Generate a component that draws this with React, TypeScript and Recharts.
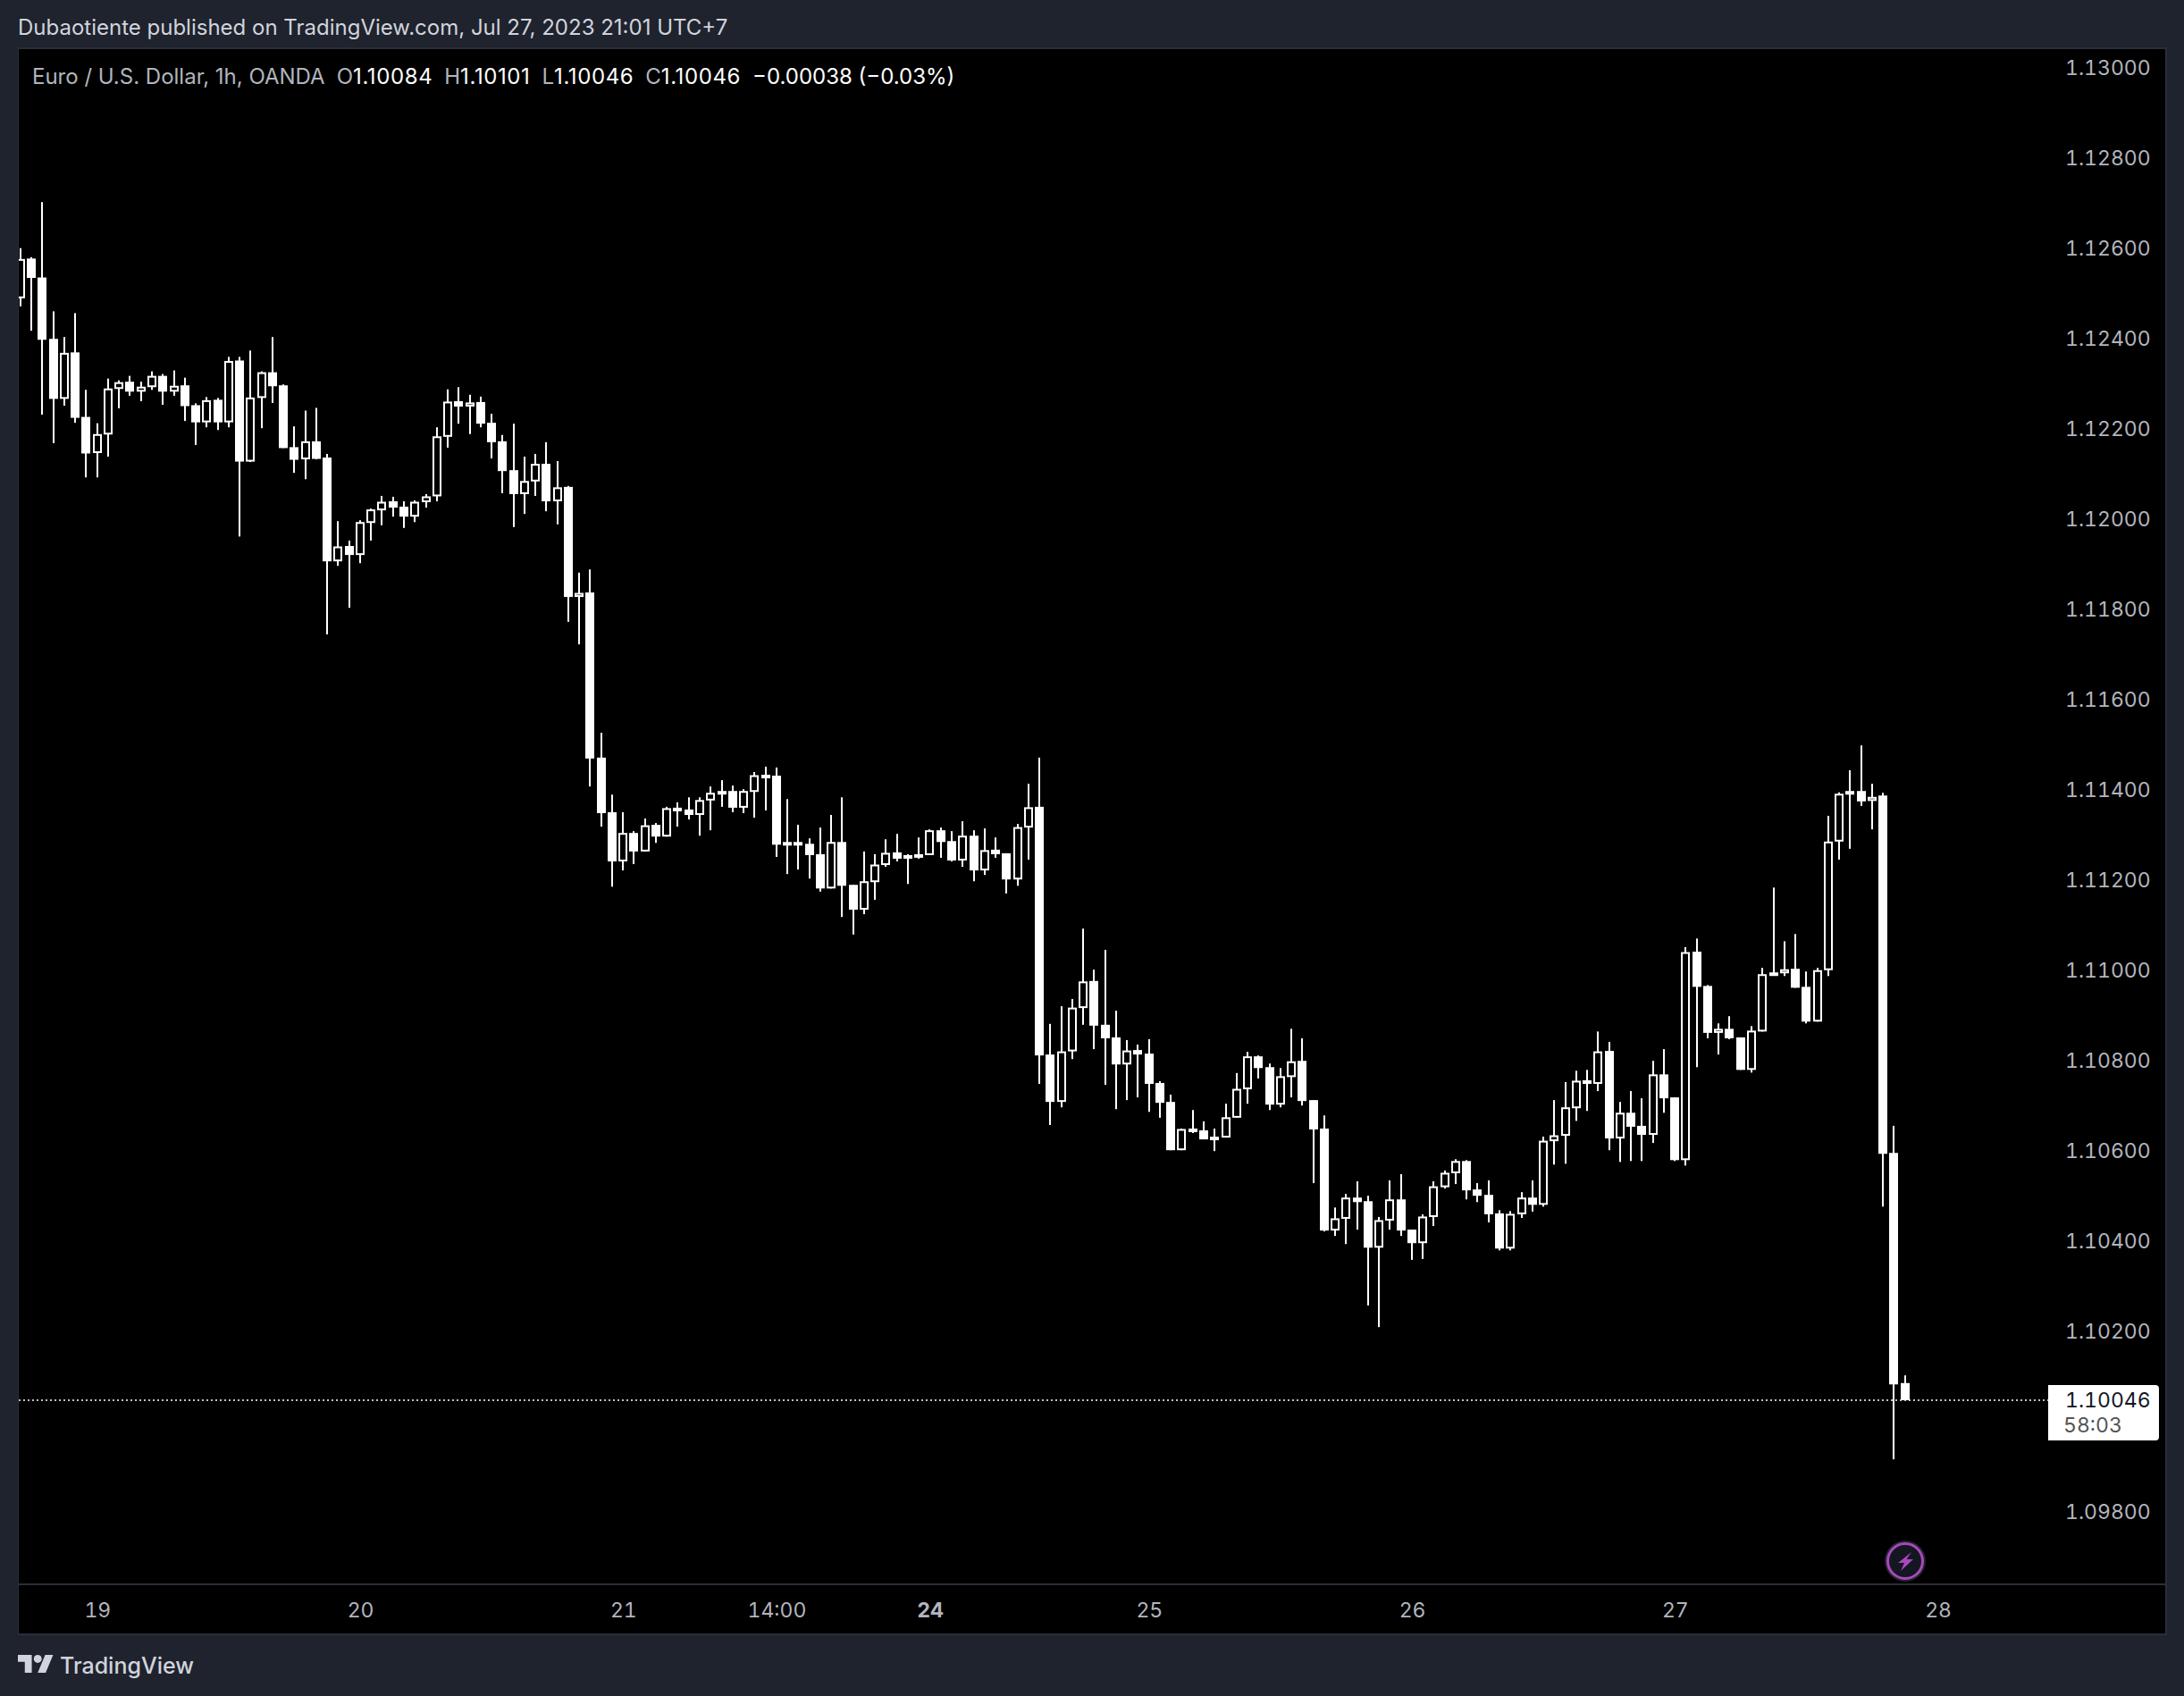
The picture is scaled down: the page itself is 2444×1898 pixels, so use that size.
import { ComposedChart, Bar, XAxis, YAxis, ReferenceLine } from "recharts";

const opens = [
  1.12488, 1.12576, 1.12534, 1.12398, 1.12265, 1.12368, 1.12225, 1.12145, 1.12186, 1.12287,
  1.12303, 1.12281, 1.12291, 1.12316, 1.12281, 1.12295, 1.12251, 1.12213, 1.12263, 1.12213,
  1.1235, 1.12126, 1.12267, 1.12324, 1.12295, 1.12158, 1.12131, 1.12171, 1.12135, 1.11905,
  1.11939, 1.11919, 1.1199, 1.12018, 1.12038, 1.12026, 1.12004, 1.12036, 1.12049, 1.12181,
  1.1226, 1.12248, 1.12258, 1.12212, 1.12171, 1.12107, 1.12054, 1.12082, 1.12121, 1.12038,
  1.1207, 1.11826, 1.11836, 1.1147, 1.11349, 1.1124, 1.11303, 1.11262, 1.11321, 1.11295,
  1.11353, 1.11355, 1.11343, 1.11375, 1.1139, 1.11396, 1.11359, 1.11394, 1.11428, 1.1143,
  1.11283, 1.11277, 1.11279, 1.11256, 1.1118, 1.11283, 1.11188, 1.11133, 1.11194, 1.11232,
  1.1126, 1.11254, 1.11252, 1.11254, 1.11309, 1.11285, 1.11242, 1.11297, 1.1122, 1.11266,
  1.11258, 1.112, 1.11315, 1.11361, 1.10812, 1.10707, 1.10819, 1.10915, 1.10975, 1.10878,
  1.1085, 1.1079, 1.10822, 1.10814, 1.10749, 1.10707, 1.106, 1.10642, 1.10644, 1.10624,
  1.10628, 1.10672, 1.10735, 1.10808, 1.10784, 1.10701, 1.10762, 1.10798, 1.10711, 1.10648,
  1.10422, 1.10448, 1.10495, 1.10487, 1.10384, 1.10444, 1.10491, 1.10424, 1.10394, 1.10452,
  1.10518, 1.10549, 1.10576, 1.10513, 1.10501, 1.1046, 1.10382, 1.10458, 1.10495, 1.10479,
  1.1062, 1.10632, 1.10693, 1.10747, 1.10747, 1.1082, 1.10626, 1.10683, 1.10654, 1.10634,
  1.10768, 1.10717, 1.10578, 1.1104, 1.10964, 1.1086, 1.10869, 1.1085, 1.10778, 1.10863,
  1.10994, 1.10992, 1.11002, 1.10962, 1.10885, 1.10999, 1.11284, 1.11388, 1.11396, 1.11374,
  1.11386, 1.10594, 1.10084,
];

const highs = [
  1.12599, 1.12579, 1.12701, 1.12459, 1.12402, 1.12455, 1.12285, 1.12211, 1.1231, 1.12306,
  1.12316, 1.12303, 1.12326, 1.1232, 1.12328, 1.12312, 1.12255, 1.12269, 1.12267, 1.12358,
  1.12358, 1.12372, 1.12326, 1.12402, 1.12297, 1.12204, 1.12239, 1.12245, 1.12143, 1.11994,
  1.11951, 1.11996, 1.12022, 1.1205, 1.12048, 1.12038, 1.1204, 1.12054, 1.12202, 1.12286,
  1.12291, 1.12274, 1.1227, 1.12232, 1.12185, 1.1221, 1.12137, 1.12143, 1.12169, 1.12127,
  1.12072, 1.1188, 1.11887, 1.11525, 1.11388, 1.11349, 1.11307, 1.11335, 1.11325, 1.11361,
  1.11371, 1.11382, 1.11382, 1.11406, 1.1142, 1.11408, 1.114, 1.11438, 1.1145, 1.11448,
  1.11378, 1.11321, 1.11291, 1.11315, 1.11343, 1.11382, 1.11188, 1.11262, 1.11256, 1.11289,
  1.11301, 1.11256, 1.11293, 1.11311, 1.11315, 1.11307, 1.11329, 1.11309, 1.11313, 1.11293,
  1.11258, 1.11323, 1.11412, 1.1147, 1.1088, 1.10919, 1.10935, 1.11091, 1.11, 1.11044,
  1.10909, 1.10844, 1.10834, 1.10846, 1.10753, 1.10723, 1.10648, 1.10689, 1.10664, 1.10648,
  1.10703, 1.10771, 1.10818, 1.1081, 1.10792, 1.10782, 1.10869, 1.10848, 1.10711, 1.10677,
  1.10473, 1.10503, 1.10531, 1.10499, 1.10452, 1.10533, 1.10547, 1.10424, 1.10458, 1.10531,
  1.10555, 1.1058, 1.10578, 1.10527, 1.10533, 1.10467, 1.10465, 1.10507, 1.10533, 1.1063,
  1.10711, 1.10751, 1.10776, 1.10778, 1.10863, 1.1084, 1.10707, 1.10731, 1.10715, 1.10798,
  1.10824, 1.10717, 1.1105, 1.11069, 1.10966, 1.10881, 1.10897, 1.1085, 1.10875, 1.11004,
  1.11182, 1.11063, 1.11079, 1.10996, 1.11004, 1.11341, 1.11393, 1.11442, 1.11497, 1.11412,
  1.11392, 1.10654, 1.10101,
];

const lows = [
  1.1247, 1.12416, 1.1223, 1.12167, 1.1225, 1.12212, 1.12091, 1.12091, 1.12137, 1.12244,
  1.12272, 1.1226, 1.12285, 1.12252, 1.12272, 1.12216, 1.12163, 1.12202, 1.12196, 1.12202,
  1.1196, 1.12125, 1.122, 1.12256, 1.12156, 1.12101, 1.12087, 1.12131, 1.11743, 1.11895,
  1.11802, 1.11901, 1.11951, 1.11985, 1.12004, 1.11979, 1.11992, 1.12024, 1.12038, 1.12157,
  1.1221, 1.12187, 1.12202, 1.12133, 1.12056, 1.11981, 1.1201, 1.1205, 1.12016, 1.11987,
  1.11771, 1.11721, 1.11406, 1.11317, 1.11184, 1.1122, 1.11234, 1.11262, 1.11281, 1.11295,
  1.11317, 1.11333, 1.11297, 1.11309, 1.11361, 1.11349, 1.11347, 1.11337, 1.11353, 1.1125,
  1.11212, 1.11222, 1.11202, 1.11173, 1.1118, 1.11117, 1.11078, 1.11123, 1.11155, 1.11228,
  1.1124, 1.1119, 1.11246, 1.11254, 1.11248, 1.1124, 1.11228, 1.11196, 1.1121, 1.11248,
  1.11169, 1.11186, 1.11244, 1.10747, 1.10656, 1.10695, 1.10802, 1.10878, 1.10824, 1.10745,
  1.10691, 1.10711, 1.10717, 1.10685, 1.10672, 1.106, 1.106, 1.10638, 1.10624, 1.10598,
  1.10628, 1.10672, 1.10703, 1.10759, 1.10689, 1.10695, 1.10717, 1.10699, 1.10527, 1.1042,
  1.1041, 1.10392, 1.10424, 1.10256, 1.10208, 1.10424, 1.1041, 1.10357, 1.10359, 1.10432,
  1.10515, 1.10525, 1.10491, 1.10485, 1.1044, 1.10378, 1.10378, 1.1045, 1.10464, 1.10475,
  1.10568, 1.1057, 1.10665, 1.10687, 1.10731, 1.106, 1.10574, 1.10576, 1.10576, 1.10616,
  1.10683, 1.10576, 1.10566, 1.10784, 1.10848, 1.10812, 1.10846, 1.10778, 1.10772, 1.10863,
  1.10988, 1.10986, 1.1096, 1.10881, 1.10885, 1.10986, 1.11244, 1.11268, 1.11363, 1.11311,
  1.10475, 1.09915, 1.10046,
];

const closes = [
  1.12575, 1.12533, 1.12396, 1.12265, 1.12367, 1.12223, 1.12144, 1.12187, 1.12288, 1.12302,
  1.12281, 1.12292, 1.12316, 1.12281, 1.12294, 1.12249, 1.12213, 1.12262, 1.12213, 1.12349,
  1.12126, 1.12268, 1.12324, 1.12293, 1.12156, 1.1213, 1.12171, 1.12132, 1.11905, 1.11938,
  1.11919, 1.11992, 1.1202, 1.12037, 1.12024, 1.12004, 1.12037, 1.12049, 1.12182, 1.12259,
  1.12248, 1.12257, 1.1221, 1.12169, 1.12105, 1.12054, 1.12083, 1.12121, 1.12038, 1.12069,
  1.11826, 1.11835, 1.11468, 1.11347, 1.1124, 1.11303, 1.11262, 1.1132, 1.11295, 1.11358,
  1.11359, 1.11343, 1.11376, 1.11392, 1.11396, 1.11359, 1.11396, 1.11431, 1.11432, 1.11277,
  1.11277, 1.11283, 1.11254, 1.1118, 1.11283, 1.11186, 1.11133, 1.11196, 1.11233, 1.11259,
  1.11246, 1.11246, 1.11256, 1.11309, 1.11283, 1.11242, 1.11297, 1.1122, 1.11265, 1.11256,
  1.112, 1.11316, 1.1136, 1.1081, 1.10707, 1.10819, 1.10916, 1.10974, 1.10876, 1.10848,
  1.1079, 1.10821, 1.10812, 1.10747, 1.10705, 1.106, 1.10647, 1.10648, 1.10624, 1.1063,
  1.10673, 1.10736, 1.10808, 1.10782, 1.10701, 1.10764, 1.10797, 1.10709, 1.10646, 1.10422,
  1.10449, 1.10495, 1.10485, 1.10384, 1.10445, 1.10491, 1.10422, 1.10394, 1.10453, 1.1052,
  1.1055, 1.10576, 1.10511, 1.10499, 1.10458, 1.10382, 1.10459, 1.10495, 1.10479, 1.10621,
  1.10633, 1.10695, 1.10754, 1.10755, 1.10819, 1.10626, 1.10683, 1.10652, 1.10634, 1.10768,
  1.10715, 1.10578, 1.11039, 1.10962, 1.1086, 1.10869, 1.10848, 1.10778, 1.10865, 1.1099,
  1.10988, 1.11001, 1.1096, 1.10885, 1.10999, 1.11284, 1.1139, 1.11396, 1.11373, 1.11383,
  1.10592, 1.10081, 1.10046,
];

const priceTicks = [
  1.098, 1.102, 1.104, 1.106, 1.108, 1.11, 1.112, 1.114, 1.116, 1.118, 1.12, 1.122, 1.124,
  1.126, 1.128, 1.13,
];
const timeTicks = [7, 31, 55, 69, 83, 103, 127, 151, 175];
const timeLabels = ["19", "20", "21", "14:00", "24", "25", "26", "27", "28"];
const lastPrice = 1.10046;

const BG = "#1f232e";
const LINE = "#2a2e39";
const FONT = "Inter, 'Noto Sans', sans-serif";
const TABULAR = "tabular-nums";

const candles = opens.map((open, i) => ({
  t: i,
  open,
  high: highs[i],
  low: lows[i],
  close: closes[i],
  range: [lows[i], highs[i]],
}));

// bar spans low..high, body position is taken from the same pixels
function Candle(props: any) {
  const { x, y, width, height, payload } = props;
  const { open, close, high, low } = payload;
  const perUnit = height / (high - low);
  const top = y + (high - Math.max(open, close)) * perUnit;
  const bottom = y + (high - Math.min(open, close)) * perUnit;
  const cx = Math.round(x + width / 2);
  const hollow = close > open;
  const h = Math.max(bottom - top, 4);
  return (
    <g>
      <rect x={cx - 1} y={y} width={2} height={height} fill="#fff" />
      {hollow ? (
        <rect x={cx - 4} y={top + 1} width={8} height={h - 2} fill="#000" stroke="#fff" strokeWidth={2} />
      ) : (
        <rect x={cx - 5} y={top} width={10} height={h} fill="#fff" />
      )}
    </g>
  );
}

function TimeTick(props: any) {
  const { x, y, payload } = props;
  const label = timeLabels[timeTicks.indexOf(payload.value)];
  return (
    <text
      x={x + 0.5}
      y={y + 29}
      textAnchor="middle"
      fill="#b2b5be"
      fontFamily={FONT}
      fontSize={23}
      fontWeight={label === "24" ? 700 : 400}
      style={{ fontVariantNumeric: TABULAR }}
    >
      {label}
    </text>
  );
}

function PriceTick(props: any) {
  const { x, y, payload } = props;
  return (
    <text
      x={x}
      y={y + 9}
      fill="#b2b5be"
      fontFamily={FONT}
      fontSize={23}
      style={{ fontVariantNumeric: TABULAR }}
    >
      {payload.value.toFixed(5)}
    </text>
  );
}

const abs = (left: number, top: number, extra: any = {}) => ({
  position: "absolute" as const,
  left,
  top,
  fontFamily: FONT,
  whiteSpace: "pre" as const,
  ...extra,
});

const V = ({ children }: any) => <span style={{ color: "#fff", letterSpacing: 0.6 }}>{children}</span>;
const Gap = () => <span style={{ display: "inline-block", width: 13 }} />;

export default function App() {
  return (
    <div style={{ position: "absolute", left: 0, top: 0, width: 2444, height: 1898, background: BG, overflow: "hidden" }}>
      <div style={abs(20, 18, { color: "#d1d4dc", fontSize: 24, lineHeight: "26px" })}>
        Dubaotiente published on TradingView.com, Jul 27, 2023 21:01 UTC+7
      </div>

      <div style={abs(20, 53, { width: 2402, height: 1773, background: "#000", border: `2px solid ${LINE}`, boxSizing: "content-box", borderLeftWidth: 1 })} />

      <div style={{ position: "absolute", left: 0, top: 0 }}>
        <ComposedChart
          width={2444}
          height={1898}
          data={candles}
          margin={{ top: 54, right: 20, bottom: 70, left: 21 }}
        >
          <XAxis
            type="number"
            dataKey="t"
            domain={[-0.163, 185.15]}
            allowDataOverflow
            ticks={timeTicks}
            interval={0}
            height={55}
            tick={<TimeTick />}
            tickLine={false}
            axisLine={{ stroke: LINE, strokeWidth: 2 }}
          />
          <YAxis
            type="number"
            orientation="right"
            width={131}
            domain={[1.09638, 1.13042]}
            allowDataOverflow
            ticks={priceTicks}
            interval={0}
            tick={<PriceTick />}
            tickSize={0}
            tickMargin={18}
            tickLine={false}
            axisLine={false}
          />
          <ReferenceLine y={lastPrice} stroke="#fff" strokeWidth={1.5} strokeDasharray="2 3" />
          <Bar dataKey="range" barSize={10} shape={<Candle />} isAnimationActive={false} />
        </ComposedChart>
      </div>

      <div style={abs(2293, 1772, { width: 131, height: 2, background: LINE })} />

      <div style={abs(36, 73, { color: "#b2b5be", fontSize: 24, lineHeight: "26px" })}>
        Euro / U.S. Dollar, 1h, OANDA
        <Gap />O<V>1.10084</V>
        <Gap />H<V>1.10101</V>
        <Gap />L<V>1.10046</V>
        <Gap />C<V>1.10046</V>
        <Gap />
        <span style={{ color: "#fff" }}>−0.00038 (−0.03%)</span>
      </div>

      <div style={abs(2292, 1550, { width: 124, height: 62, background: "#fff", borderRadius: "0 4px 4px 0" })} />
      <div style={abs(2311, 1554, { color: "#131722", fontSize: 23, lineHeight: "26px", fontVariantNumeric: TABULAR })}>1.10046</div>
      <div style={abs(2309, 1582, { color: "#555", fontSize: 23, lineHeight: "26px", fontVariantNumeric: TABULAR })}>58:03</div>

      <svg style={abs(2108, 1723)} width={48} height={48} viewBox="0 0 48 48">
        <circle cx={24} cy={24} r={23} fill={BG} />
        <circle cx={24} cy={24} r={19.5} fill="#131722" stroke="#ab47bc" strokeWidth={3} />
        <path d="M31 14 L16 26 H23 L19 35 L33 22 H25.5 Z" fill="#ab47bc" />
      </svg>

      <svg style={abs(20, 1852)} width={40} height={20} viewBox="0 4 36 18">
        <path d="M14 22H7V11H0V4h14v18zM28 22h-8l7.5-18h8L28 22z" fill="#d1d4dc" />
        <circle cx={20} cy={8} r={4} fill="#d1d4dc" />
      </svg>
      <div style={abs(67, 1850, { color: "#d1d4dc", fontSize: 25, fontWeight: 500, lineHeight: "28px" })}>TradingView</div>
    </div>
  );
}
